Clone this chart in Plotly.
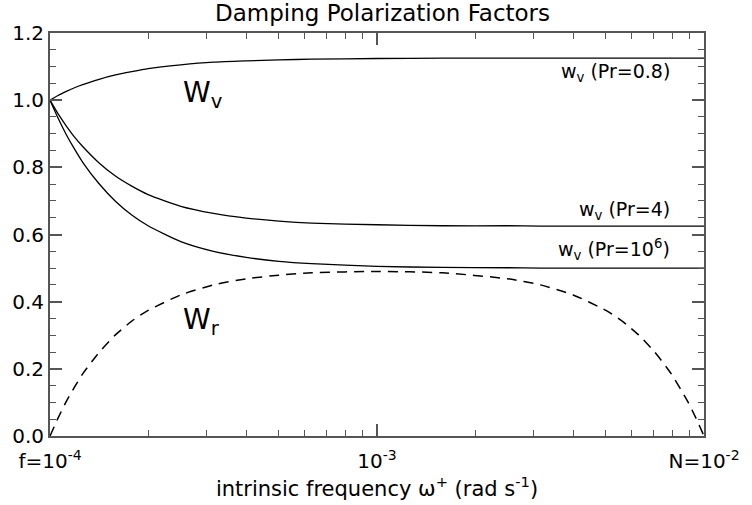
import plotly.graph_objects as go

# intrinsic frequency (rad s^-1), log-spaced from f=1e-4 to N=1e-2
omega = [1.0e-4, 1.059e-4, 1.122e-4, 1.189e-4, 1.259e-4, 1.413e-4, 1.585e-4,
         1.778e-4, 1.995e-4, 2.512e-4, 3.162e-4, 3.981e-4, 5.012e-4, 6.310e-4,
         1.0e-3, 1.585e-3, 2.512e-3, 3.162e-3, 3.981e-3, 5.012e-3, 5.623e-3,
         6.310e-3, 7.079e-3, 7.943e-3, 8.913e-3, 9.441e-3, 1.0e-2]

wv_pr08 = [1.000, 1.014, 1.026, 1.037, 1.046, 1.062, 1.075, 1.085, 1.094, 1.105,
           1.113, 1.117, 1.120, 1.122, 1.124, 1.125, 1.125, 1.125, 1.125, 1.125,
           1.125, 1.125, 1.125, 1.125, 1.125, 1.125, 1.125]
wv_pr4 = [1.000, 0.959, 0.923, 0.890, 0.862, 0.813, 0.774, 0.744, 0.719, 0.684,
          0.663, 0.649, 0.640, 0.634, 0.629, 0.626, 0.626, 0.625, 0.625, 0.625,
          0.625, 0.625, 0.625, 0.625, 0.625, 0.625, 0.625]
wv_pr1e6 = [1.000, 0.946, 0.897, 0.854, 0.815, 0.751, 0.699, 0.658, 0.626, 0.579,
            0.550, 0.532, 0.520, 0.513, 0.505, 0.502, 0.501, 0.500, 0.500, 0.500,
            0.500, 0.500, 0.500, 0.500, 0.500, 0.500, 0.500]
wr = [0.000, 0.054, 0.103, 0.146, 0.185, 0.249, 0.301, 0.342, 0.374, 0.420,
      0.450, 0.468, 0.479, 0.486, 0.490, 0.486, 0.468, 0.450, 0.420, 0.374,
      0.342, 0.301, 0.249, 0.185, 0.103, 0.054, 0.000]

x_major_vals = [1e-4, 1e-3, 1e-2]
x_major_text = ["f=10<sup>-4</sup>", "10<sup>-3</sup>", "N=10<sup>-2</sup>"]
x_minor_vals = [2e-4, 3e-4, 4e-4, 5e-4, 6e-4, 7e-4, 8e-4, 9e-4,
                2e-3, 3e-3, 4e-3, 5e-3, 6e-3, 7e-3, 8e-3, 9e-3]
y_major_vals = [0.0, 0.2, 0.4, 0.6, 0.8, 1.0, 1.2]
y_major_text = ["0.0", "0.2", "0.4", "0.6", "0.8", "1.0", "1.2"]

FONT = "DejaVu Sans, Verdana, sans-serif"
line_style = dict(color="black", width=1.3, shape="spline", smoothing=0.6)

fig = go.Figure()
for ys in (wv_pr08, wv_pr4, wv_pr1e6):
    fig.add_trace(go.Scatter(x=omega, y=ys, mode="lines", line=line_style,
                             showlegend=False, hoverinfo="skip"))
fig.add_trace(go.Scatter(x=omega, y=wr, mode="lines",
                         line=dict(color="black", width=1.5, dash="10px,7px",
                                   shape="spline", smoothing=0.6),
                         showlegend=False, hoverinfo="skip"))

axis_common = dict(showgrid=False, zeroline=False, showline=True,
                   linecolor="#555555", linewidth=2, mirror="ticks",
                   ticks="inside", ticklen=12, tickwidth=1.5, tickcolor="#555555",
                   tickfont=dict(family=FONT, size=20, color="black"))

fig.update_layout(
    width=752, height=505,
    margin=dict(l=49, r=36, t=33, b=69),
    paper_bgcolor="white", plot_bgcolor="white",
    font=dict(family=FONT, color="black"),
    title=dict(text="Damping Polarization Factors", x=0.5087, xanchor="center",
               y=0.975, yanchor="middle", yref="container",
               font=dict(family=FONT, size=23, color="black")),
    xaxis=dict(type="log", range=[-4, -2], tickmode="array",
               tickvals=x_major_vals, ticktext=x_major_text,
               ticklabelstandoff=6,
               minor=dict(tickvals=x_minor_vals, ticks="inside", ticklen=6,
                          tickwidth=1.2, tickcolor="#555555"),
               title=dict(text="intrinsic frequency ω<sup>+</sup> (rad s<sup>-1</sup>)",
                          font=dict(family=FONT, size=21, color="black"), standoff=2),
               **axis_common),
    yaxis=dict(range=[0, 1.2], tickmode="array", tickvals=y_major_vals,
               ticktext=y_major_text,
               minor=dict(dtick=0.05, ticks="inside", ticklen=6, tickwidth=1.2,
                          tickcolor="#555555"),
               **axis_common),
)

ann_font_big = dict(family=FONT, size=28, color="black")
ann_font = dict(family=FONT, size=19, color="black")
fig.add_annotation(xref="paper", yref="paper", x=0.201, y=0.848, xanchor="left",
                   yanchor="middle", text="W<sub>v</sub>", showarrow=False,
                   font=ann_font_big)
fig.add_annotation(xref="paper", yref="paper", x=0.201, y=0.283, xanchor="left",
                   yanchor="middle", text="W<sub>r</sub>", showarrow=False,
                   font=ann_font_big)
fig.add_annotation(xref="paper", yref="paper", x=0.9505, y=0.902, xanchor="right",
                   yanchor="middle", text="w<sub>v</sub> (Pr=0.8)", showarrow=False,
                   font=ann_font)
fig.add_annotation(xref="paper", yref="paper", x=0.9505, y=0.559, xanchor="right",
                   yanchor="middle", text="w<sub>v</sub> (Pr=4)", showarrow=False,
                   font=ann_font)
fig.add_annotation(xref="paper", yref="paper", x=0.9505, y=0.462, xanchor="right",
                   yanchor="middle", text="w<sub>v</sub> (Pr=10<sup>6</sup>)",
                   showarrow=False, font=ann_font)

fig.write_html("out.html")
